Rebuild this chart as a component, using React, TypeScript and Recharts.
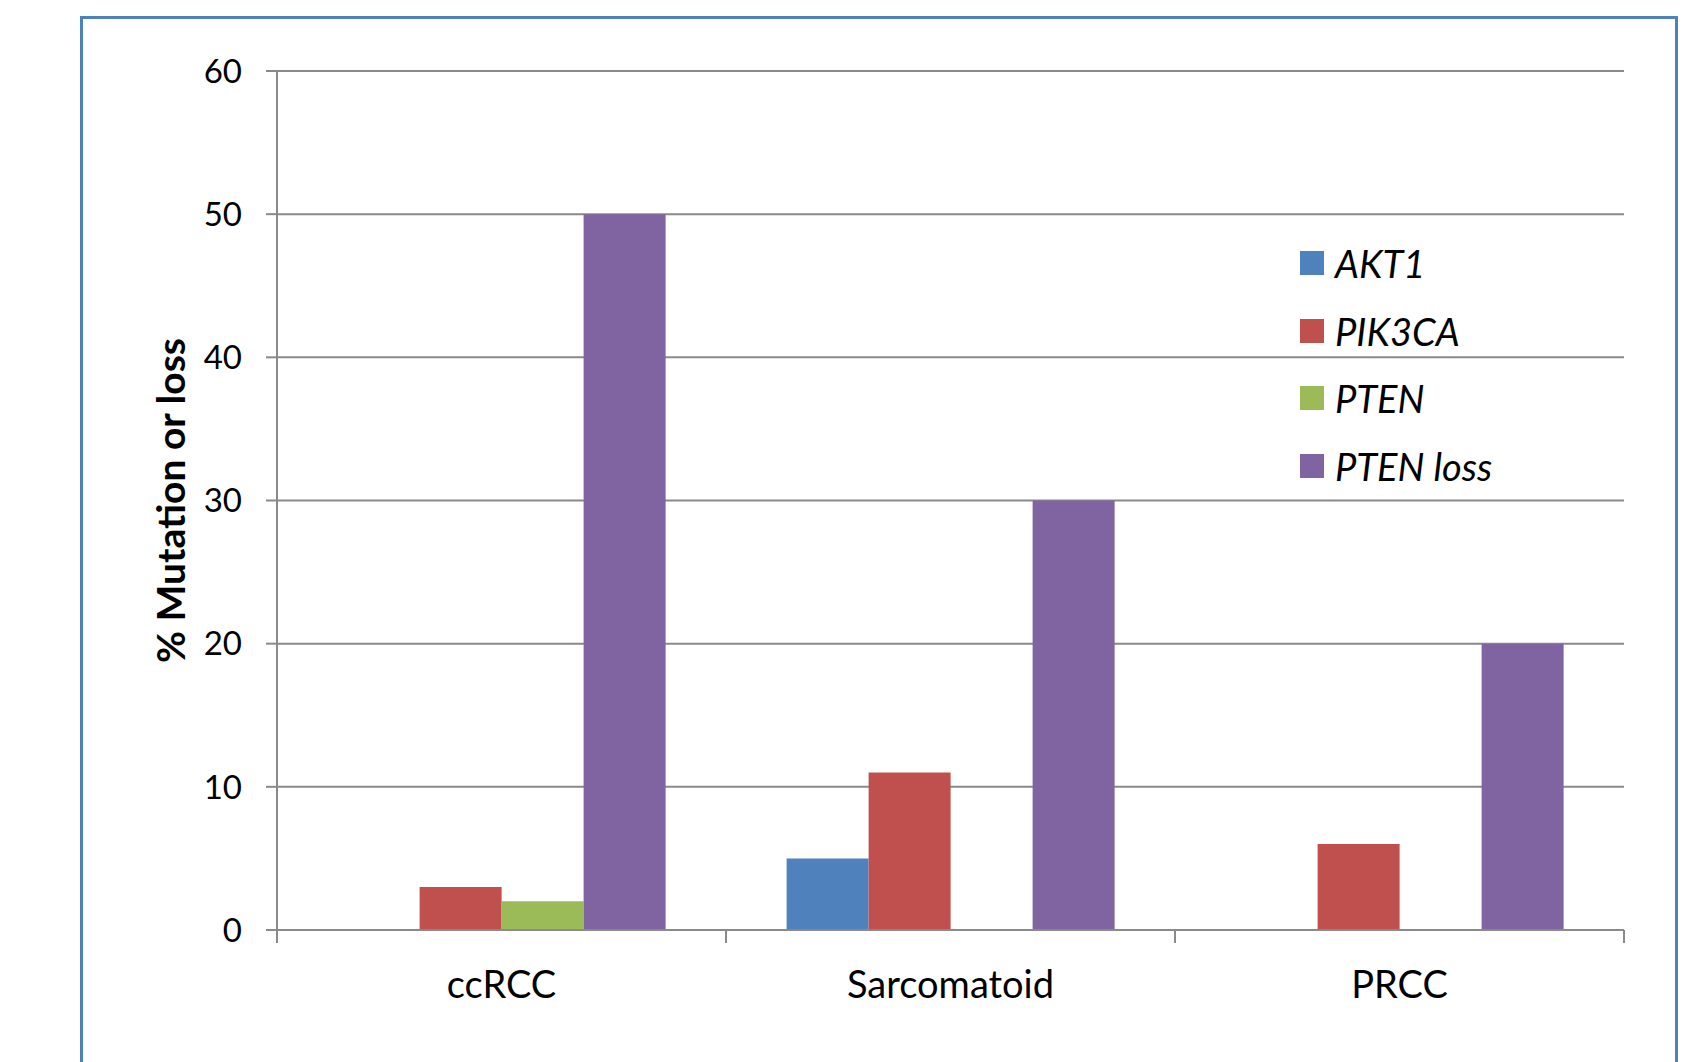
import React from "react";
import { BarChart, Bar, XAxis, YAxis, CartesianGrid, Legend } from "recharts";

const categories = ["ccRCC", "Sarcomatoid", "PRCC"];
const akt1 = [0, 5, 0];
const pik3ca = [3, 11, 6];
const pten = [2, 0, 0];
const ptenLoss = [50, 30, 20];
const yTicks = [0, 10, 20, 30, 40, 50, 60];

const data = categories.map((name, i) => ({
  name,
  akt1: akt1[i],
  pik3ca: pik3ca[i],
  pten: pten[i],
  ptenLoss: ptenLoss[i],
}));

const FONT = "Lato, 'Open Sans', sans-serif";
const AXIS_GREY = "#8a8a8a";
const LABEL_GAP = 41;
const EDGE_TICK = 13;

// category label plus the tick marks on the group edges (Excel style)
function CategoryTick(props: any) {
  const { x, y, payload, index, width, visibleTicksCount } = props;
  const half = width && visibleTicksCount ? width / visibleTicksCount / 2 : 0;
  const axisY = y - LABEL_GAP;
  const edges = [x - half];
  if (index === visibleTicksCount - 1) edges.push(x + half);
  return (
    <g>
      {half > 0 &&
        edges.map((ex) => (
          <line
            key={ex}
            x1={ex}
            x2={ex}
            y1={axisY}
            y2={axisY + EDGE_TICK}
            stroke={AXIS_GREY}
            strokeWidth={2}
          />
        ))}
      <text
        x={x}
        y={y}
        dy="0.71em"
        textAnchor="middle"
        fontFamily={FONT}
        fontSize={38}
        fill="#000"
      >
        {payload.value}
      </text>
    </g>
  );
}

function LegendContent({ payload }: any) {
  return (
    <div style={{ fontFamily: FONT, fontStyle: "italic", fontSize: 38, color: "#000" }}>
      {(payload || []).map((p: any) => (
        <div
          key={p.value}
          style={{ display: "flex", alignItems: "center", height: 67.7 }}
        >
          <span
            style={{
              display: "inline-block",
              width: 24,
              height: 24,
              background: p.color,
              marginRight: 11,
            }}
          />
          <span>{p.value}</span>
        </div>
      ))}
    </div>
  );
}

export default function App() {
  return (
    <div
      style={{
        position: "absolute",
        left: 0,
        top: 0,
        width: 1700,
        height: 1062,
        overflow: "hidden",
        background: "#fff",
      }}
    >
      <div
        style={{
          position: "absolute",
          left: 80,
          top: 16,
          width: 1598,
          height: 1100,
          border: "3px solid #4F81BD",
          boxSizing: "border-box",
        }}
      />
      <div style={{ position: "absolute", left: 0, top: 0 }}>
        <BarChart
          width={1700}
          height={1062}
          data={data}
          margin={{ top: 71, right: 76, left: 65, bottom: 131 }}
          barGap={0}
          barCategoryGap="13.5%"
        >
          <CartesianGrid
            horizontal
            vertical={false}
            stroke={AXIS_GREY}
            strokeWidth={2}
          />
          <XAxis
            dataKey="name"
            height={1}
            axisLine={{ stroke: AXIS_GREY, strokeWidth: 2 }}
            tickLine={false}
            tickSize={0}
            tickMargin={LABEL_GAP}
            interval={0}
            tick={<CategoryTick />}
          />
          <YAxis
            width={212}
            domain={[0, 60]}
            ticks={yTicks}
            axisLine={{ stroke: AXIS_GREY, strokeWidth: 2 }}
            tickLine={{ stroke: AXIS_GREY, strokeWidth: 2 }}
            tickSize={11}
            tickMargin={24}
            tick={{ fontFamily: FONT, fontSize: 33, fill: "#000" }}
            label={{
              value: "% Mutation or loss",
              angle: -90,
              position: "center",
              style: {
                fontFamily: FONT,
                fontWeight: 700,
                fontSize: 39,
                fill: "#000",
              },
            }}
          />
          <Legend
            layout="vertical"
            align="center"
            verticalAlign="middle"
            content={<LegendContent />}
            wrapperStyle={{ left: 1300, top: 229, width: 360, right: "auto", bottom: "auto" }}
          />
          <Bar dataKey="akt1" name="AKT1" fill="#4F81BD" isAnimationActive={false} />
          <Bar dataKey="pik3ca" name="PIK3CA" fill="#C0504D" isAnimationActive={false} />
          <Bar dataKey="pten" name="PTEN" fill="#9BBB59" isAnimationActive={false} />
          <Bar dataKey="ptenLoss" name="PTEN loss" fill="#8064A2" isAnimationActive={false} />
        </BarChart>
      </div>
    </div>
  );
}
